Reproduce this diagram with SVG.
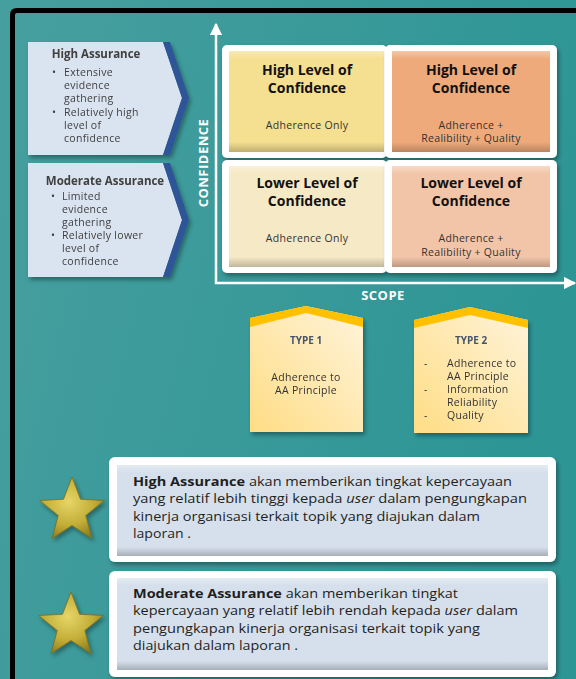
<svg xmlns="http://www.w3.org/2000/svg" width="576" height="679" viewBox="0 0 576 679">
<defs>
  <linearGradient id="bg" x1="0" y1="0" x2="1" y2="0.3">
    <stop offset="0" stop-color="#479f9f"/>
    <stop offset="1" stop-color="#2e9595"/>
  </linearGradient>
  <linearGradient id="bevel" x1="0" y1="0" x2="0" y2="1">
    <stop offset="0" stop-color="#ffffff" stop-opacity="0.35"/>
    <stop offset="0.08" stop-color="#ffffff" stop-opacity="0"/>
    <stop offset="0.9" stop-color="#000000" stop-opacity="0"/>
    <stop offset="1" stop-color="#000000" stop-opacity="0.22"/>
  </linearGradient>
  <linearGradient id="house" x1="0" y1="1" x2="1" y2="0">
    <stop offset="0" stop-color="#ffdd85"/>
    <stop offset="1" stop-color="#fff4dc"/>
  </linearGradient>
  <radialGradient id="gold" cx="0.45" cy="0.4" r="0.65">
    <stop offset="0" stop-color="#e6d667"/>
    <stop offset="0.6" stop-color="#c2ad37"/>
    <stop offset="1" stop-color="#8c7a1c"/>
  </radialGradient>
  <filter id="sh" x="-10%" y="-10%" width="130%" height="130%">
    <feDropShadow dx="2" dy="3" stdDeviation="2" flood-color="#000" flood-opacity="0.35"/>
  </filter>
  <path id="star" d="M0,-34 L8.52,-11.73 L32.34,-10.51 L13.79,4.48 L19.98,27.51 L0,14.5 L-19.98,27.51 L-13.79,4.48 L-32.34,-10.51 L-8.52,-11.73 Z"/>
  <marker id="ah" viewBox="0 0 10 10" refX="9" refY="5" markerWidth="5" markerHeight="5" orient="auto-start-reverse" markerUnits="strokeWidth">
    <path d="M0,0 L10,5 L0,10 Z" fill="#fff"/>
  </marker>
</defs>
<style>
  text { font-family: "Open Sans", "Liberation Sans", sans-serif; }
  .ct { font-size: 11.5px; font-weight: bold; fill: #404040; text-anchor: middle; }
  .cb { font-size: 10.5px; fill: #404040; letter-spacing: 0.3px; }
  .qt { font-size: 14px; font-weight: bold; fill: #111; text-anchor: middle; }
  .qs { font-size: 10.5px; fill: #333; text-anchor: middle; letter-spacing: 0.3px; }
  .ax { font-size: 13px; font-weight: bold; fill: #fff; text-anchor: middle; letter-spacing: 0.5px; }
  .tt { font-size: 10px; font-weight: bold; fill: #44546a; text-anchor: middle; }
  .tb { font-size: 10.5px; fill: #333; letter-spacing: 0.3px; }
  .pb { font-size: 13px; fill: #1f1f1f; }
  .frame { fill: #fff; filter: url(#sh); }
  .bev { fill: url(#bevel); }
  .chev { fill: #dae3f0; }
  .chevd { fill: #2f5597; }
  .roof { fill: #ffc000; }
  .para { fill: #d6e0ec; }
</style>

<rect x="0" y="0" width="576" height="679" fill="url(#bg)"/>
<path d="M12.5,679 V15 Q12.5,10.5 17,10.5 H576" fill="none" stroke="#000" stroke-width="5"/>

<g id="chevron-high" filter="url(#sh)">
  <polygon class="chev" points="28,42 163,42 182,98 163,155 28,155"/>
  <polygon class="chevd" points="163,42 170,42 189,98 170,155 163,155 182,98"/>
  <text class="ct" x="96" y="58">High Assurance</text>
  <text class="cb" x="52" y="76">•</text><text class="cb" x="64" y="76">Extensive</text>
  <text class="cb" x="64" y="89">evidence</text>
  <text class="cb" x="64" y="102">gathering</text>
  <text class="cb" x="52" y="116">•</text><text class="cb" x="64" y="116">Relatively high</text>
  <text class="cb" x="64" y="129">level of</text>
  <text class="cb" x="64" y="142">confidence</text>
</g>

<g id="chevron-moderate" filter="url(#sh)">
  <polygon class="chev" points="28,163 163,163 182,220 163,277 28,277"/>
  <polygon class="chevd" points="163,163 170,163 189,220 170,277 163,277 182,220"/>
  <text class="ct" x="105" y="185">Moderate Assurance</text>
  <text class="cb" x="51" y="200">•</text><text class="cb" x="62" y="200">Limited</text>
  <text class="cb" x="62" y="213">evidence</text>
  <text class="cb" x="62" y="226">gathering</text>
  <text class="cb" x="51" y="239">•</text><text class="cb" x="62" y="239">Relatively lower</text>
  <text class="cb" x="62" y="252">level of</text>
  <text class="cb" x="62" y="265">confidence</text>
</g>

<g id="connectors">
  <line x1="216" y1="284" x2="216" y2="24" stroke="#fff" stroke-width="2.5" marker-end="url(#ah)"/>
  <line x1="215" y1="283" x2="575" y2="283" stroke="#fff" stroke-width="2.5" marker-end="url(#ah)"/>
</g>
<text class="ax" transform="translate(208,163) rotate(-90)" x="0" y="0">CONFIDENCE</text>
<text class="ax" x="383" y="300">SCOPE</text>

<g id="q-high-adherence">
  <rect class="frame" x="222" y="45" width="165" height="113" rx="5"/>
  <rect x="229" y="51" width="155" height="101" fill="#f5df91"/>
  <rect class="bev" x="229" y="51" width="155" height="101"/>
  <text class="qt" x="307" y="75">High Level of</text>
  <text class="qt" x="307" y="93">Confidence</text>
  <text class="qs" x="307" y="129">Adherence Only</text>
</g>
<g id="q-high-full">
  <rect class="frame" x="385" y="45" width="172" height="113" rx="5"/>
  <rect x="392" y="51" width="158" height="101" fill="#eeaa7b"/>
  <rect class="bev" x="392" y="51" width="158" height="101"/>
  <text class="qt" x="471" y="75">High Level of</text>
  <text class="qt" x="471" y="93">Confidence</text>
  <text class="qs" x="471" y="129">Adherence +</text>
  <text class="qs" x="471" y="142">Realibility + Quality</text>
</g>
<g id="q-lower-adherence">
  <rect class="frame" x="222" y="160" width="165" height="113" rx="5"/>
  <rect x="229" y="166" width="155" height="101" fill="#f6e9c6"/>
  <rect class="bev" x="229" y="166" width="155" height="101"/>
  <text class="qt" x="307" y="188">Lower Level of</text>
  <text class="qt" x="307" y="206">Confidence</text>
  <text class="qs" x="307" y="242">Adherence Only</text>
</g>
<g id="q-lower-full">
  <rect class="frame" x="385" y="160" width="172" height="113" rx="5"/>
  <rect x="392" y="166" width="158" height="101" fill="#f2c5a8"/>
  <rect class="bev" x="392" y="166" width="158" height="101"/>
  <text class="qt" x="471" y="188">Lower Level of</text>
  <text class="qt" x="471" y="206">Confidence</text>
  <text class="qs" x="471" y="242">Adherence +</text>
  <text class="qs" x="471" y="256">Realibility + Quality</text>
</g>

<g id="type1" filter="url(#sh)">
  <polygon points="250,318 306,306 363,318 363,432 250,432" fill="url(#house)"/>
  <polygon class="roof" points="250,318 306,306 363,318 363,327 306,313 250,327"/>
  <text class="tt" x="306" y="344">TYPE 1</text>
  <text class="tb" x="306" y="381" text-anchor="middle">Adherence to</text>
  <text class="tb" x="306" y="394" text-anchor="middle">AA Principle</text>
</g>
<g id="type2" filter="url(#sh)">
  <polygon points="414,320 470,307 528,320 528,433 414,433" fill="url(#house)"/>
  <polygon class="roof" points="414,320 470,307 528,320 528,328 470,315 414,328"/>
  <text class="tt" x="471" y="344">TYPE 2</text>
  <text class="tb" x="424" y="367">-</text><text class="tb" x="447" y="367">Adherence to</text>
  <text class="tb" x="447" y="380">AA Principle</text>
  <text class="tb" x="424" y="393">-</text><text class="tb" x="447" y="393">Information</text>
  <text class="tb" x="447" y="406">Reliability</text>
  <text class="tb" x="424" y="419">-</text><text class="tb" x="447" y="419">Quality</text>
</g>

<g id="star-high">
  <use href="#star" transform="translate(72,511)" fill="url(#gold)" stroke="#7d6c17" stroke-width="0.8" filter="url(#sh)"/>
</g>
<g id="note-high">
  <rect class="frame" x="109" y="457" width="447" height="105" rx="6"/>
  <rect class="para" x="117" y="465" width="431" height="91"/>
  <rect class="bev" x="117" y="465" width="431" height="91"/>
  <text class="pb" x="133" y="486" textLength="379" lengthAdjust="spacingAndGlyphs"><tspan font-weight="bold">High Assurance</tspan> akan memberikan tingkat kepercayaan</text>
  <text class="pb" x="133" y="503" textLength="394" lengthAdjust="spacingAndGlyphs">yang relatif lebih tinggi kepada <tspan font-style="italic">user</tspan> dalam pengungkapan</text>
  <text class="pb" x="133" y="521" textLength="347" lengthAdjust="spacingAndGlyphs">kinerja organisasi terkait topik yang diajukan dalam</text>
  <text class="pb" x="133" y="538" textLength="58" lengthAdjust="spacingAndGlyphs">laporan .</text>
</g>

<g id="star-moderate">
  <use href="#star" transform="translate(71,626)" fill="url(#gold)" stroke="#7d6c17" stroke-width="0.8" filter="url(#sh)"/>
</g>
<g id="note-moderate">
  <rect class="frame" x="109" y="571" width="447" height="106" rx="6"/>
  <rect class="para" x="117" y="578" width="431" height="92"/>
  <rect class="bev" x="117" y="578" width="431" height="92"/>
  <text class="pb" x="133" y="598" textLength="325" lengthAdjust="spacingAndGlyphs"><tspan font-weight="bold">Moderate Assurance</tspan> akan memberikan tingkat</text>
  <text class="pb" x="133" y="615" textLength="385" lengthAdjust="spacingAndGlyphs">kepercayaan yang relatif lebih rendah kepada <tspan font-style="italic">user</tspan> dalam</text>
  <text class="pb" x="133" y="633" textLength="347" lengthAdjust="spacingAndGlyphs">pengungkapan kinerja organisasi terkait topik yang</text>
  <text class="pb" x="133" y="650" textLength="165" lengthAdjust="spacingAndGlyphs">diajukan dalam laporan .</text>
</g>
</svg>
